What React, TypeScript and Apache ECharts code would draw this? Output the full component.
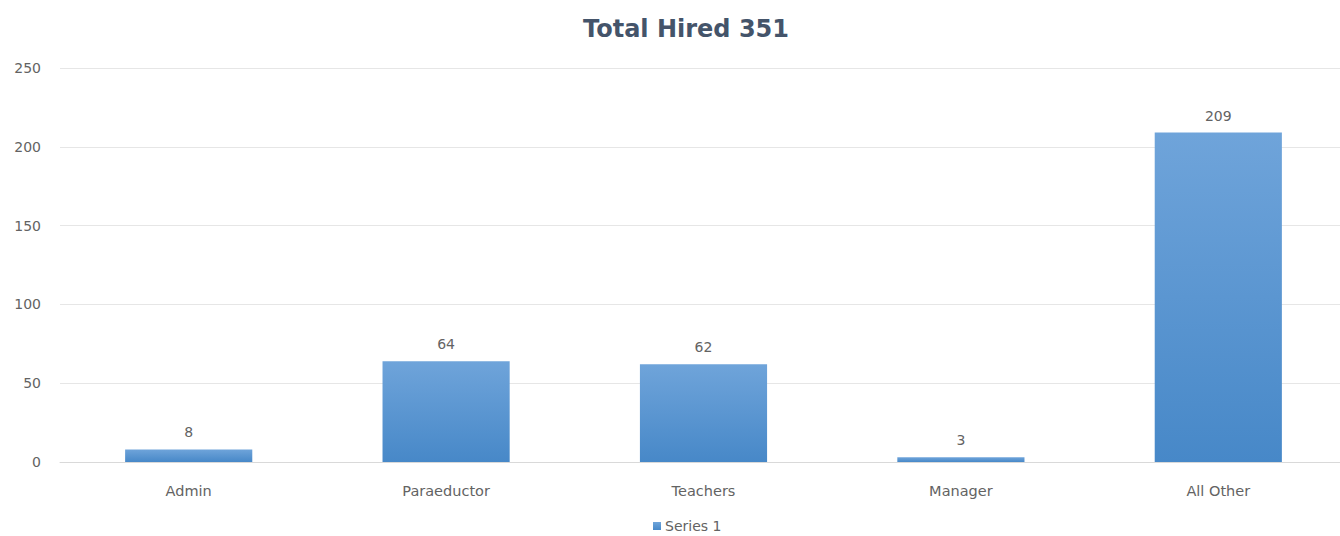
import React, { useEffect, useRef } from "react";
import * as echarts from "echarts";

const categories = ["Admin", "Paraeductor", "Teachers", "Manager", "All Other"];
const hired = [8, 64, 62, 3, 209];
const seriesName = "Series 1";
const titleText = "Total Hired 351";

const FONT = "'DejaVu Sans', 'Open Sans', sans-serif";

export default function App() {
  const ref = useRef<HTMLDivElement>(null);
  useEffect(() => {
    if (!ref.current) return;
    const chart = echarts.init(ref.current, undefined, { renderer: "svg" });
    chart.setOption({
      animation: false,
      backgroundColor: "#ffffff",
      textStyle: { fontFamily: FONT },
      title: {
        text: titleText,
        left: 681,
        top: 12,
        textAlign: "center",
        textStyle: { fontSize: 24, fontWeight: "bold", color: "#44546a", fontFamily: FONT },
      },
      legend: {
        data: [seriesName],
        left: 648,
        top: 514,
        itemWidth: 8,
        itemHeight: 8,
        icon: "rect",
        itemGap: 4,
        textStyle: { fontSize: 14, color: "#636363", padding: [0, 0, 0, -1] },
      },
      grid: { left: 60, right: 0, top: 68, bottom: 74 },
      xAxis: {
        type: "category",
        data: categories,
        axisLine: { lineStyle: { color: "#d9d9d9" } },
        axisTick: { show: false },
        axisLabel: { color: "#636363", fontSize: 14.5, margin: 21 },
      },
      yAxis: {
        type: "value",
        min: 0,
        max: 250,
        interval: 50,
        axisLine: { show: false },
        axisTick: { show: false },
        splitLine: { lineStyle: { color: "#e6e6e6" } },
        axisLabel: { color: "#636363", fontSize: 14, margin: 19 },
      },
      series: [
        {
          name: seriesName,
          type: "bar",
          data: hired,
          barWidth: "49.4%",
          itemStyle: {
            color: new echarts.graphic.LinearGradient(0, 0, 0, 1, [
              { offset: 0, color: "#6fa4da" },
              { offset: 1, color: "#4788c8" },
            ]),
          },
          label: {
            show: true,
            position: "top",
            distance: 10,
            color: "#636363",
            fontSize: 14,
          },
        },
      ],
    });
    return () => chart.dispose();
  }, []);
  return (
    <div style={{ position: "fixed", left: 0, top: 0, width: 1340, height: 536, overflow: "hidden", background: "#fff" }}>
      <div ref={ref} style={{ width: 1347, height: 536 }} />
    </div>
  );
}
